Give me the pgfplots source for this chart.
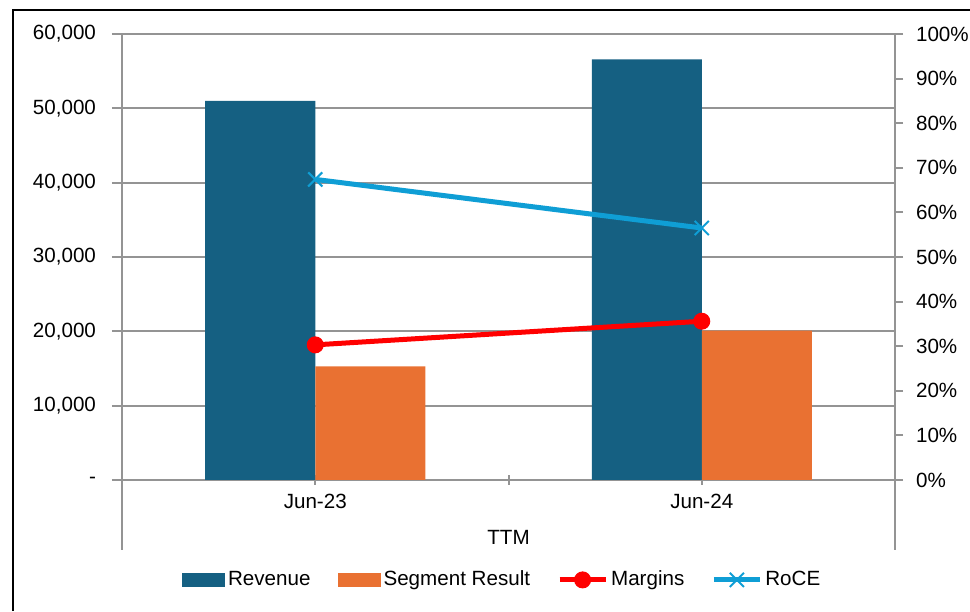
\documentclass[border=0pt]{standalone}
\usepackage{pgfplots}
\pgfplotsset{compat=1.18}
\usepackage{fontspec}
\setmainfont{Liberation Sans}
\definecolor{rev}{HTML}{156082}
\definecolor{seg}{HTML}{E97132}
\definecolor{roce}{HTML}{0F9ED5}
\definecolor{marg}{HTML}{FF0000}
\definecolor{axgray}{HTML}{949494}
\pgfplotsset{
  mylinelegend/.style={legend image code/.code={\draw[##1, mark repeat=2, mark phase=2] plot coordinates {(0pt,0pt) (11.5pt,0pt) (23pt,0pt)};}},
  mybarlegend/.style={legend image code/.code={\fill[##1, draw=none] (0pt,-3.5pt) rectangle (21.5pt,3.5pt);}},
}
\begin{document}
\begin{tikzpicture}[font=\fontsize{10.3}{12}\selectfont]
\useasboundingbox (0,0) rectangle (485pt,305.5pt);
\draw[black, line width=1.1pt] (6.5pt,0pt) -- (6.5pt,300.65pt) -- (485pt,300.65pt);
\begin{axis}[
  at={(61pt,65.5pt)}, anchor=south west,
  scale only axis, width=386.5pt, height=223pt,
  xmin=-0.5, xmax=1.5, ymin=0, ymax=60000,
  scaled y ticks=false,
  axis x line*=bottom, axis y line*=left,
  axis line style={draw=axgray, line width=1pt, -},
  xtick={0,0.5,1}, xticklabels={Jun-23,,Jun-24},
  ytick={0,10000,20000,30000,40000,50000,60000},
  yticklabels={-\hspace{4.5pt},{10,000},{20,000},{30,000},{40,000},{50,000},{60,000}},
  ymajorgrids, grid style={draw=axgray, line width=1pt},
  every tick/.style={draw=axgray, line width=1pt},
  xtick align=center, ytick align=outside,
  major tick length=5pt,
  tick label style={font=\fontsize{10.3}{12}\selectfont, text=black},
  yticklabel style={anchor=east, xshift=-4.5pt},
  xticklabel style={anchor=north, yshift=-1pt},
  xlabel={TTM},
  xlabel style={at={(axis description cs:0.5,-0.128)}, anchor=center, font=\fontsize{10.3}{12}\selectfont},
  clip=false,
]
\addplot[ybar, bar width=55pt, bar shift=-27.5pt, fill=rev, draw=none] coordinates {(0,51000) (1,56600)};
\addplot[ybar, bar width=55pt, bar shift=27.5pt, fill=seg, draw=none] coordinates {(0,15300) (1,20100)};
\end{axis}
\begin{axis}[
  at={(61pt,65.5pt)}, anchor=south west,
  scale only axis, width=386.5pt, height=223pt,
  xmin=-0.5, xmax=1.5, ymin=0, ymax=100,
  axis x line=none, axis y line*=right,
  axis line style={draw=axgray, line width=1pt, -},
  ytick={0,10,20,30,40,50,60,70,80,90,100},
  yticklabels={0\%,10\%,20\%,30\%,40\%,50\%,60\%,70\%,80\%,90\%,100\%},
  every tick/.style={draw=axgray, line width=1pt},
  ytick align=outside, major tick length=4pt,
  tick label style={font=\fontsize{10.3}{12}\selectfont, text=black},
  yticklabel style={anchor=west, xshift=3pt},
  legend style={at={(0.4925,-0.224)}, anchor=center, draw=none, fill=none,
    legend columns=-1, font=\fontsize{10.3}{12}\selectfont,
    /tikz/every even column/.append style={column sep=12pt},
    nodes={inner sep=1.5pt, xshift=1pt}},
  legend cell align=left,
  clip=false,
]
\addlegendimage{mybarlegend, fill=rev}
\addlegendentry{Revenue}
\addlegendimage{mybarlegend, fill=seg}
\addlegendentry{Segment Result}
\addplot[marg, line width=2.5pt, mark=*, mark size=4pt, mark options={solid, fill=marg, draw=marg, line width=0.5pt}, mylinelegend]
  coordinates {(0,30.3) (1,35.6)};
\addlegendentry{Margins}
\addplot[roce, line width=2.5pt, mark=x, mark size=5pt, mark options={solid, line width=1pt}, mylinelegend]
  coordinates {(0,67.4) (1,56.5)};
\addlegendentry{RoCE}
\end{axis}
\draw[axgray, line width=1pt] (61pt,30.5pt) -- (61pt,65.5pt);
\draw[axgray, line width=1pt] (447.5pt,30.5pt) -- (447.5pt,65.5pt);
\end{tikzpicture}
\end{document}
